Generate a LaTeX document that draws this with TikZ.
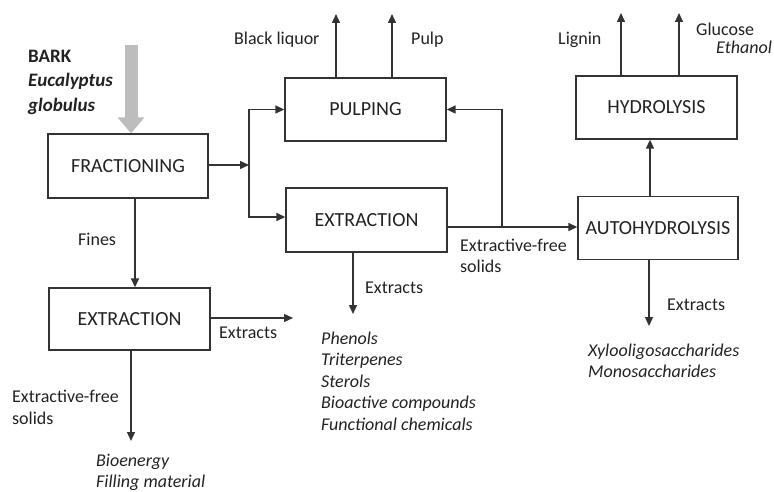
\documentclass[tikz,border=0pt]{standalone}
\usepackage{fontspec}
\setmainfont{Carlito}
\usetikzlibrary{arrows.meta,calc}
\definecolor{ink}{HTML}{222222}
\definecolor{lin}{HTML}{333333}
\definecolor{feed}{HTML}{BDBDBD}
\tikzset{
  box/.style={draw=lin,line width=1.3pt,rectangle,text=ink,font=\fontsize{20}{24}\selectfont,inner sep=0pt},
  arr/.style={draw=lin,line width=1.4pt,-{Triangle[length=9pt,width=8pt]}},
  lbl/.style={text=ink,font=\fontsize{18}{21.5}\selectfont,inner sep=0pt,anchor=west,align=left},
  ilbl/.style={lbl,font=\fontsize{18}{21.5}\selectfont\itshape},
}
\begin{document}
\begin{tikzpicture}[x=1pt,y=-1pt]
\useasboundingbox (0,0) rectangle (774,492);
% boxes
\node[box,minimum width=160pt,minimum height=64pt] (frac) at (128,166) {FRACTIONING};
\node[box,minimum width=161pt,minimum height=63pt] (pulp) at (365.5,109.5) {PULPING};
\node[box,minimum width=161pt,minimum height=64pt] (extr) at (366.5,220) {EXTRACTION};
\node[box,minimum width=160pt,minimum height=63pt] (auto) at (658,228) {AUTOHYDROLYSIS};
\node[box,minimum width=161pt,minimum height=63pt] (hydro) at (656.5,107.5) {HYDROLYSIS};
\node[box,minimum width=161pt,minimum height=62pt] (extl) at (129.5,319) {EXTRACTION};
% feed
\node[lbl,font=\fontsize{19}{24.5}\selectfont\bfseries] (bark) at (28,82) {BARK\\\textit{Eucalyptus}\\\textit{globulus}};
\coordinate (feedtop) at (131,45);
\draw[draw=feed,line width=13pt,-{Triangle[length=16pt,width=26pt]}] (feedtop) -- (frac.north -| feedtop);
% coordinates
\coordinate (split) at (249,165);
\coordinate (ej) at (502,227);
\coordinate (bl) at (336,14);
\coordinate (pp) at (392,14);
\coordinate (lg) at (621,13);
\coordinate (gl) at (679,13);
\coordinate (exd) at (353,314);
\coordinate (aud) at (649,326);
\coordinate (fin) at (135,0);
\coordinate (exe) at (293,318);
\coordinate (exld) at (131,441);
\coordinate (ah) at (650,0);
% connectors
\draw[arr] (frac.east |- split) -- (split);
\draw[arr] (split) |- (pulp.west);
\draw[arr] (split) |- (extr.west |- 0,217);
\draw[arr] (extr.east |- ej) -- (auto.west |- ej);
\draw[arr] (ej) |- (pulp.east);
\draw[arr] (auto.north -| ah) -- (hydro.south -| ah);
\draw[arr] (pulp.north -| bl) -- (bl);
\draw[arr] (pulp.north -| pp) -- (pp);
\draw[arr] (hydro.north -| lg) -- (lg);
\draw[arr] (hydro.north -| gl) -- (gl);
\draw[arr] (extr.south -| exd) -- (exd);
\draw[arr] (auto.south -| aud) -- (aud);
\draw[arr] (frac.south -| fin) -- (extl.north -| fin);
\draw[arr] (extl.east |- exe) -- (exe);
\draw[arr] (extl.south -| exld) -- (exld);
% labels
\node[lbl] (lbk) at (234,40) {Black liquor};
\node[lbl] (lpu) at (411,40) {Pulp};
\node[lbl] (lli) at (558,40) {Lignin};
\node[lbl] (lgl) at (696,29) {Glucose};
\node[ilbl] (let) at (716,47) {Ethanol};
\node[lbl] (lfi) at (78,239) {Fines};
\node[lbl] (lex1) at (219,333) {Extracts};
\node[lbl] (lef1) at (12,407.5) {Extractive-free\\solids};
\node[ilbl] (lbio) at (96,472.5) {Bioenergy\\Filling material};
\node[lbl] (lef2) at (460,256) {Extractive-free\\solids};
\node[lbl] (lex2) at (365,288) {Extracts};
\node[ilbl] (lph) at (321,381) {Phenols\\Triterpenes\\Sterols\\Bioactive compounds\\Functional chemicals};
\node[lbl] (lex3) at (667,305) {Extracts};
\node[ilbl] (lxy) at (588,361) {Xylooligosaccharides\\Monosaccharides};
\end{tikzpicture}
\end{document}
